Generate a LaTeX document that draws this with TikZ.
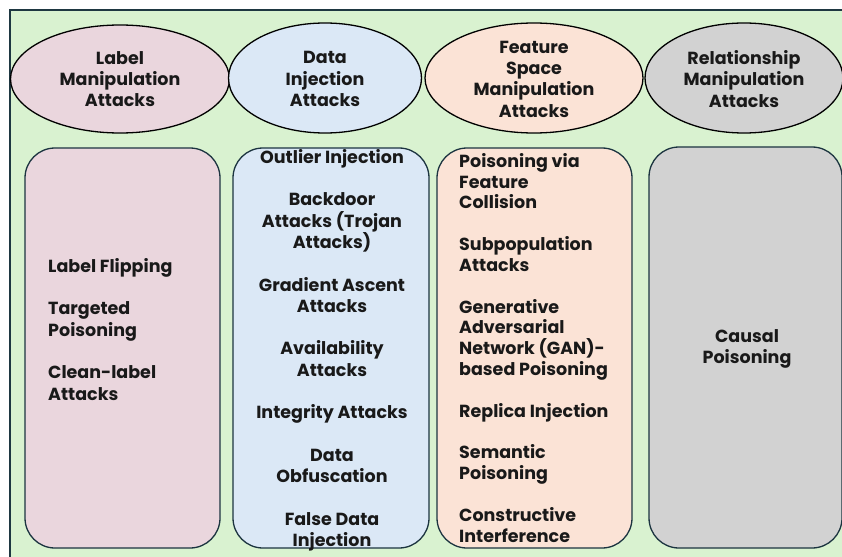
\documentclass[tikz,border=0pt]{standalone}
\usepackage{fontspec}
\setmainfont{Poppins}
\usetikzlibrary{shapes.geometric}
\definecolor{bggreen}{RGB}{217,242,208}
\definecolor{framec}{RGB}{30,55,65}
\definecolor{boxline}{RGB}{28,52,64}
\definecolor{pinkc}{RGB}{234,214,221}
\definecolor{bluec}{RGB}{219,232,246}
\definecolor{peachc}{RGB}{251,227,214}
\definecolor{greyc}{RGB}{210,210,210}
\tikzset{
  head/.style={ellipse, draw=black, line width=1.3pt, inner sep=0pt},
  col/.style={rectangle, rounded corners=30pt, draw=boxline, line width=1.3pt, inner sep=0pt},
  txt/.style={font=\bfseries\fontsize{17.5}{21.3}\selectfont, inner sep=0pt, text=black!90},
  txtb/.style={font=\bfseries\fontsize{17.5}{20.83}\selectfont, inner sep=0pt, text=black!90}
}
\begin{document}
\begin{tikzpicture}[x=1pt,y=-1pt]
\useasboundingbox (0,0) rectangle (842,556);
\clip (0,0) rectangle (842,556);
\draw[fill=bggreen, draw=framec, line width=1.5pt] (10,10) rectangle (860,570);
% headers
\node[head, fill=pinkc, minimum width=219pt, minimum height=108pt] (e1) at (120,79) {};
\node[head, fill=bluec, minimum width=193pt, minimum height=110pt] (e2) at (325,78) {};
\node[head, fill=peachc, minimum width=218pt, minimum height=110pt] (e3) at (534,78) {};
\node[head, fill=greyc, minimum width=198pt, minimum height=110pt] (e4) at (744,78) {};
\node[txt, align=center] (t1) at (120,79) {Label\\Manipulation\\Attacks};
\node[txt, align=center] (t2) at (325,79) {Data\\Injection\\Attacks};
\node[txt, align=center] (t3) at (534,79) {Feature\\Space\\Manipulation\\Attacks};
\node[txt, align=center] (t4) at (744,79) {Relationship\\Manipulation\\Attacks};
% columns
\node[col, fill=pinkc, minimum width=195pt, minimum height=400pt] (c1) at (122.5,348) {};
\node[col, fill=bluec, minimum width=196pt, minimum height=400pt] (c2) at (331,348) {};
\node[col, fill=peachc, minimum width=195pt, minimum height=400pt] (c3) at (534.5,348) {};
\node[col, fill=greyc, minimum width=193pt, minimum height=401pt] (c4) at (745.5,347.5) {};
% column texts
\node[txt, align=left, anchor=north west] (l1) at (48,258) {Label Flipping\\[21.3pt]Targeted\\Poisoning\\[21.3pt]Clean-label\\Attacks};
\node[txt, align=center, anchor=north] (l2) at (332,149) {Outlier Injection\\[21.3pt]Backdoor\\Attacks (Trojan\\Attacks)\\[21.3pt]Gradient Ascent\\Attacks\\[21.3pt]Availability\\Attacks\\[21.3pt]Integrity Attacks\\[21.3pt]Data\\Obfuscation\\[21.3pt]False Data\\Injection};
\node[txtb, align=left, anchor=north west] (l3) at (459,153) {Poisoning via\\Feature\\Collision\\[20.83pt]Subpopulation\\Attacks\\[20.83pt]Generative\\Adversarial\\Network (GAN)-\\based Poisoning\\[20.83pt]Replica Injection\\[20.83pt]Semantic\\Poisoning\\[20.83pt]Constructive\\Interference};
\node[txt, align=center] (l4) at (747,349) {Causal\\Poisoning};
\end{tikzpicture}
\end{document}
